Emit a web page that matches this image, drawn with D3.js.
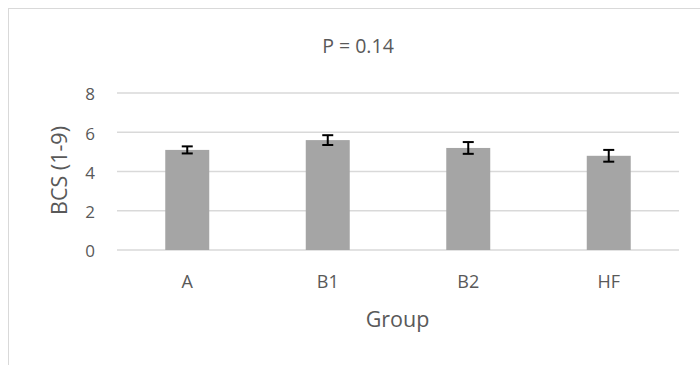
<!DOCTYPE html>
<html><head><meta charset="utf-8">
<script src="https://cdn.jsdelivr.net/npm/d3@7"></script>
<style>body{margin:0;background:#fff;}svg{display:block;font-family:"Open Sans",sans-serif;}</style>
</head><body>
<svg id="chart" width="700" height="365"></svg>
<script>
const categories = ["A", "B1", "B2", "HF"];
const values = [5.1, 5.6, 5.2, 4.8];
const errors = [0.18, 0.25, 0.3, 0.3];
const yTicks = [0, 2, 4, 6, 8];
const title = "P = 0.14";
const yLabel = "BCS (1-9)";
const xLabel = "Group";

const svg = d3.select("#chart");
const plotLeft = 117, plotRight = 679, plotTop = 93, plotBottom = 250;

svg.append("rect").attr("x", 8.5).attr("y", 8.5).attr("width", 720).attr("height", 400)
  .attr("fill", "#fff").attr("stroke", "#d9d9d9").attr("stroke-width", 1);

const x = d3.scaleBand().domain(categories).range([plotLeft, plotRight]).paddingInner(0.687).paddingOuter(0.3435);
const y = d3.scaleLinear().domain([0, 8]).range([plotBottom, plotTop]);

svg.append("g").selectAll("line").data(yTicks).join("line")
  .attr("x1", plotLeft).attr("x2", plotRight)
  .attr("y1", d => y(d)).attr("y2", d => y(d))
  .attr("stroke", "#d9d9d9").attr("stroke-width", 1.3);

const yAxis = d3.axisLeft(y).tickValues(yTicks).tickSize(0).tickPadding(0);
const ga = svg.append("g").attr("transform", `translate(${plotLeft - 22},0)`).call(yAxis);
ga.select(".domain").remove();
ga.selectAll("text").attr("font-size", 17).attr("fill", "#595959").attr("font-family", "'Open Sans',sans-serif").attr("dy", "0.4em");

const xAxis = d3.axisBottom(x).tickSize(0).tickPadding(0);
const gx = svg.append("g").attr("transform", `translate(0,${plotBottom + 38})`).call(xAxis);
gx.select(".domain").remove();
gx.selectAll("text").attr("font-size", 18).attr("fill", "#595959").attr("font-family", "'Open Sans',sans-serif").attr("dy", "0");

svg.append("g").selectAll("rect").data(categories).join("rect")
  .attr("x", d => x(d)).attr("width", x.bandwidth())
  .attr("y", (d, i) => y(values[i])).attr("height", (d, i) => y(0) - y(values[i]))
  .attr("fill", "#a5a5a5");

const eg = svg.append("g").attr("stroke", "#000").attr("stroke-width", 2);
categories.forEach((c, i) => {
  const cx = x(c) + x.bandwidth() / 2;
  const hi = y(values[i] + errors[i]), lo = y(values[i] - errors[i]);
  eg.append("line").attr("x1", cx).attr("x2", cx).attr("y1", hi).attr("y2", lo);
  eg.append("line").attr("x1", cx - 5.5).attr("x2", cx + 5.5).attr("y1", hi).attr("y2", hi);
  eg.append("line").attr("x1", cx - 5.5).attr("x2", cx + 5.5).attr("y1", lo).attr("y2", lo);
});

svg.append("text").attr("x", 358).attr("y", 53).attr("text-anchor", "middle")
  .attr("font-size", 19.5).attr("fill", "#595959").text(title);
svg.append("text").attr("transform", "translate(67,170.5) rotate(-90)").attr("text-anchor", "middle")
  .attr("font-size", 21.5).attr("fill", "#595959").text(yLabel);
svg.append("text").attr("x", 397.5).attr("y", 327).attr("text-anchor", "middle")
  .attr("font-size", 21.5).attr("fill", "#595959").text(xLabel);
</script>
</body></html>
